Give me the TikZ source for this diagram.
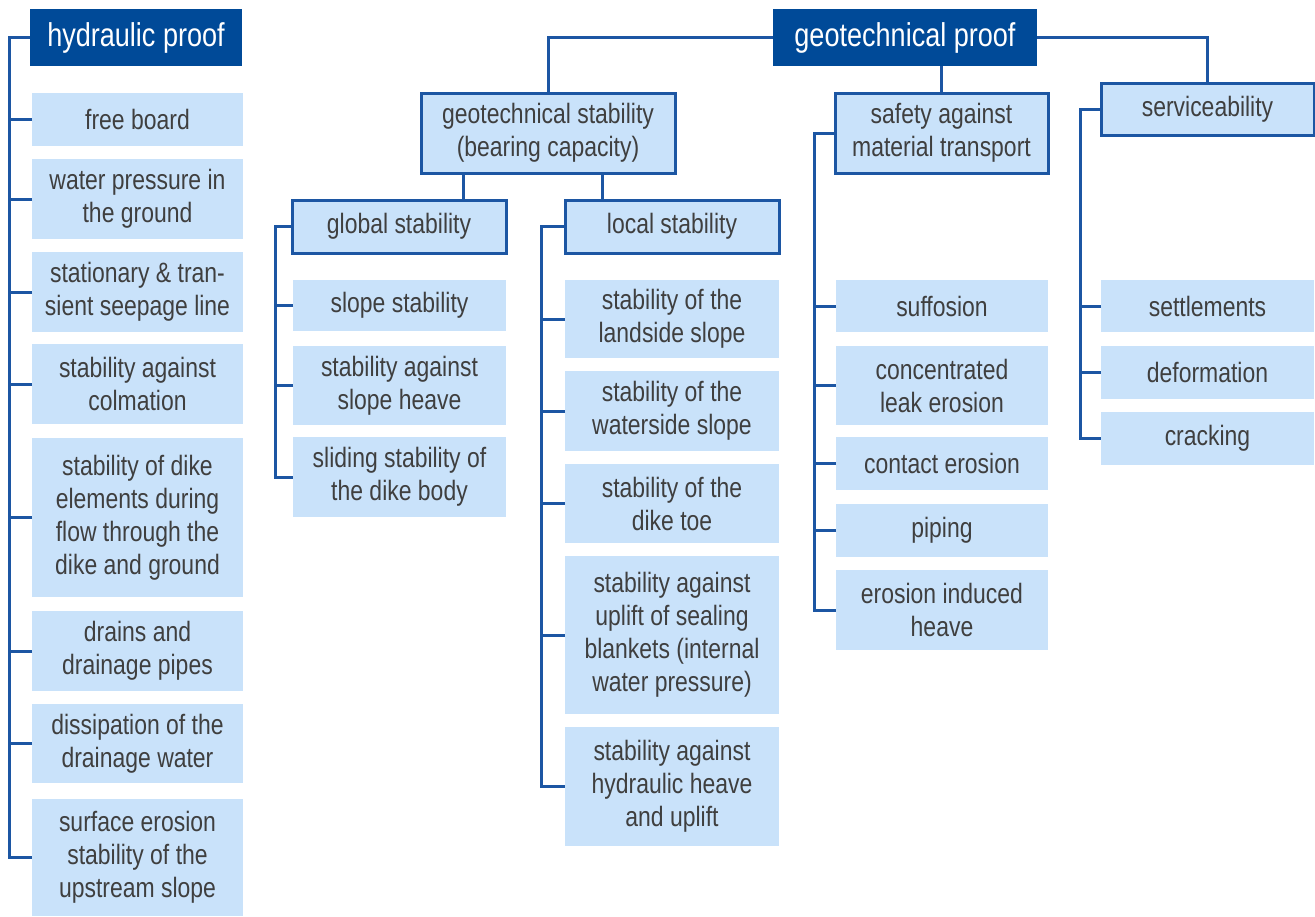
\documentclass[tikz,border=0pt]{standalone}
\usepackage{fontspec}
\setmainfont[FakeStretch=0.82]{Liberation Sans}
\newfontfamily\narrowf[FakeStretch=0.82]{Liberation Sans}

\definecolor{headblue}{HTML}{004A98}
\definecolor{linkblue}{HTML}{1C56A3}
\definecolor{leaffill}{HTML}{C9E2FA}
\definecolor{textgrey}{HTML}{3F3F3F}

\tikzset{
  sz/.style 2 args={minimum width=#1pt, minimum height=#2pt},
  basebox/.style={anchor=north west, inner sep=0pt, outer sep=0pt, align=center},
  headbox/.style={basebox, fill=headblue, text=white,
    font=\narrowf\fontsize{33}{38}\selectfont},
  groupbox/.style={basebox, fill=leaffill, draw=linkblue, line width=3pt, text=textgrey,
    font=\narrowf\fontsize{28}{33}\selectfont},
  leafbox/.style={basebox, fill=leaffill, text=textgrey,
    font=\narrowf\fontsize{28}{33}\selectfont},
  conn/.style={draw=linkblue, line width=3pt, line join=miter},
}

\begin{document}
\begin{tikzpicture}[x=1pt, y=-1pt]
\useasboundingbox (0,0) rectangle (1315,916);

% top level
\node[headbox, sz={212}{57}] (hyd) at (30,9) {hydraulic proof};
\node[headbox, sz={264}{57}] (gp) at (773,9) {geotechnical proof};

% hydraulic proof items
\node[leafbox, sz={211}{53}]  (h1) at (32,93)  {free board};
\node[leafbox, sz={211}{80}]  (h2) at (32,159) {water pressure in\\the ground};
\node[leafbox, sz={211}{80}]  (h3) at (32,252) {stationary \& tran-\\sient seepage line};
\node[leafbox, sz={211}{80}]  (h4) at (32,344) {stability against\\colmation};
\node[leafbox, sz={211}{159}] (h5) at (32,438) {stability of dike\\elements during\\flow through the\\dike and ground};
\node[leafbox, sz={211}{80}]  (h6) at (32,611) {drains and\\drainage pipes};
\node[leafbox, sz={211}{79}]  (h7) at (32,704) {dissipation of the\\drainage water};
\node[leafbox, sz={211}{117}] (h8) at (32,799) {surface erosion\\stability of the\\upstream slope};

% geotechnical groups
\node[groupbox, sz={254}{80}] (gs) at (421,93)  {geotechnical stability\\(bearing capacity)};
\node[groupbox, sz={214}{53}] (gl) at (292,200) {global stability};
\node[groupbox, sz={214}{53}] (lo) at (565,200) {local stability};
\node[groupbox, sz={213}{80}] (sa) at (835,93)  {safety against\\material transport};
\node[groupbox, sz={213}{52}] (sv) at (1101,83) {serviceability};

% global stability items
\node[leafbox, sz={213}{51}] (g1) at (293,280) {slope stability};
\node[leafbox, sz={213}{79}] (g2) at (293,346) {stability against\\slope heave};
\node[leafbox, sz={213}{80}] (g3) at (293,437) {sliding stability of\\the dike body};

% local stability items
\node[leafbox, sz={214}{78}]  (l1) at (565,280) {stability of the\\landside slope};
\node[leafbox, sz={214}{80}]  (l2) at (565,371) {stability of the\\waterside slope};
\node[leafbox, sz={214}{79}]  (l3) at (565,464) {stability of the\\dike toe};
\node[leafbox, sz={214}{158}] (l4) at (565,556) {stability against\\uplift of sealing\\blankets (internal\\water pressure)};
\node[leafbox, sz={214}{119}] (l5) at (565,727) {stability against\\hydraulic heave\\and uplift};

% material transport items
\node[leafbox, sz={212}{52}] (s1) at (836,280) {suffosion};
\node[leafbox, sz={212}{79}] (s2) at (836,346) {concentrated\\leak erosion};
\node[leafbox, sz={212}{53}] (s3) at (836,437) {contact erosion};
\node[leafbox, sz={212}{53}] (s4) at (836,504) {piping};
\node[leafbox, sz={212}{80}] (s5) at (836,570) {erosion induced\\heave};

% serviceability items
\node[leafbox, sz={213}{52}] (v1) at (1101,280) {settlements};
\node[leafbox, sz={213}{53}] (v2) at (1101,346) {deformation};
\node[leafbox, sz={213}{53}] (v3) at (1101,412) {cracking};

% x positions of the vertical trunks
\coordinate (ht) at (9,0);
\coordinate (gt) at (275,0);
\coordinate (lt) at (541,0);
\coordinate (st) at (814,0);
\coordinate (vt) at (1080,0);

% links below the top level
\draw[conn] (gp.west) -| (gs.north);
\draw[conn] (gp.east) -| (sv.north);
\draw[conn] (sa.north) -- (sa.north |- gp.south);
\coordinate (gsL) at ([xshift=42pt]gs.south west);
\coordinate (gsR) at ([xshift=-73pt]gs.south east);
\draw[conn] (gsL) -- (gsL |- gl.north);
\draw[conn] (gsR) -- (gsR |- lo.north);

% trunks with their branches
\draw[conn] (hyd.west) -- (hyd.west -| ht) |- (h8.west);
\foreach \i in {1,...,7} \draw[conn] (h\i.west) -- (h\i.west -| ht);

\draw[conn] (gl.west) -- (gl.west -| gt) |- (g3.west);
\foreach \i in {1,2} \draw[conn] (g\i.west) -- (g\i.west -| gt);

\draw[conn] (lo.west) -- (lo.west -| lt) |- (l5.west);
\foreach \i in {1,...,4} \draw[conn] (l\i.west) -- (l\i.west -| lt);

\draw[conn] (sa.west) -- (sa.west -| st) |- (s5.west);
\foreach \i in {1,...,4} \draw[conn] (s\i.west) -- (s\i.west -| st);

\draw[conn] (sv.west) -- (sv.west -| vt) |- (v3.west);
\foreach \i in {1,2} \draw[conn] (v\i.west) -- (v\i.west -| vt);
\end{tikzpicture}
\end{document}
